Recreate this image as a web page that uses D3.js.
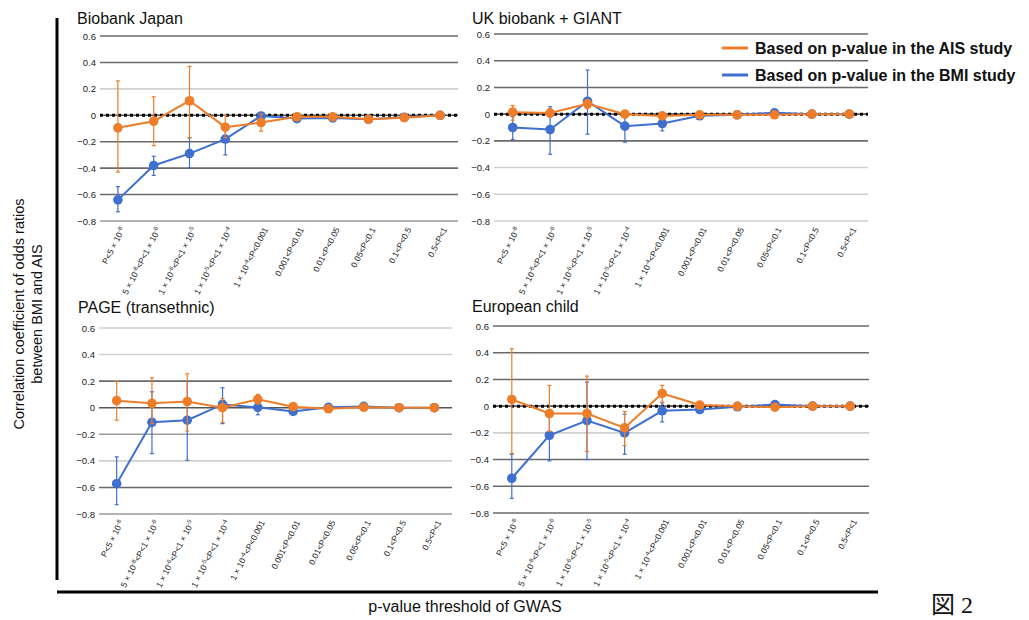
<!DOCTYPE html>
<html>
<head>
<meta charset="utf-8">
<script src="https://cdn.jsdelivr.net/npm/d3@7"></script>
<style>
  body { margin: 0; background: #fff; }
  svg { display: block; font-family: "Liberation Sans", Arial, sans-serif; }
</style>
</head>
<body>
<svg id="chart" width="1029" height="620"></svg>
<script>
// p-value threshold bins (^ marks a superscript exponent)
const categories = [
  "P<5 × 10^-8", "5 × 10^-8<P<1 × 10^-6", "1 × 10^-6<P<1 × 10^-5",
  "1 × 10^-5<P<1 × 10^-4", "1 × 10^-4<P<0.001", "0.001<P<0.01",
  "0.01<P<0.05", "0.05<P<0.1", "0.1<P<0.5", "0.5<P<1"
];
const yTicks = [0.6, 0.4, 0.2, 0, -0.2, -0.4, -0.6, -0.8];

// Biobank Japan
const bbjAis   = [-0.095, -0.045, 0.11, -0.09, -0.055, -0.012, -0.012, -0.03, -0.018, 0.0];
const bbjAisLo = [-0.43, -0.23, -0.17, -0.17, -0.12, -0.02, -0.02, -0.04, -0.025, -0.005];
const bbjAisHi = [0.26, 0.14, 0.37, 0.0, 0.01, 0.0, 0.0, -0.02, -0.01, 0.005];
const bbjBmi   = [-0.64, -0.38, -0.29, -0.18, -0.005, -0.025, -0.02, -0.03, -0.015, 0.0];
const bbjBmiLo = [-0.73, -0.455, -0.40, -0.30, -0.03, -0.03, -0.025, -0.035, -0.02, -0.005];
const bbjBmiHi = [-0.54, -0.31, -0.17, -0.11, 0.02, -0.02, -0.015, -0.025, -0.01, 0.005];

// UK biobank + GIANT
const ukbAis   = [0.015, 0.008, 0.077, 0.0, -0.013, -0.005, -0.005, -0.005, 0.0, 0.0];
const ukbAisLo = [-0.045, -0.02, 0.04, -0.01, -0.02, -0.01, -0.01, -0.01, -0.005, -0.005];
const ukbAisHi = [0.065, 0.04, 0.11, 0.01, -0.005, 0.0, 0.0, 0.0, 0.005, 0.005];
const ukbBmi   = [-0.10, -0.115, 0.097, -0.09, -0.07, -0.012, -0.005, 0.01, 0.0, 0.0];
const ukbBmiLo = [-0.19, -0.30, -0.15, -0.21, -0.125, -0.02, -0.01, 0.0, -0.005, -0.005];
const ukbBmiHi = [-0.02, 0.055, 0.33, -0.01, -0.04, -0.005, 0.0, 0.02, 0.005, 0.005];

// PAGE (transethnic)
const pageAis   = [0.053, 0.033, 0.046, 0.0, 0.063, 0.008, -0.008, 0.003, 0.0, 0.0];
const pageAisLo = [-0.094, -0.12, -0.175, -0.11, 0.028, 0.0, -0.015, -0.005, -0.005, -0.005];
const pageAisHi = [0.2, 0.225, 0.255, 0.07, 0.1, 0.015, 0.0, 0.01, 0.005, 0.005];
const pageBmi   = [-0.572, -0.11, -0.094, 0.025, 0.003, -0.028, 0.003, 0.01, 0.0, 0.0];
const pageBmiLo = [-0.73, -0.345, -0.395, -0.12, -0.053, -0.035, -0.003, 0.0, -0.005, -0.005];
const pageBmiHi = [-0.37, 0.12, 0.2, 0.15, 0.03, -0.02, 0.01, 0.02, 0.005, 0.005];

// European child
const euAis   = [0.05, -0.055, -0.055, -0.163, 0.095, 0.008, 0.0, -0.008, 0.0, 0.0];
const euAisLo = [-0.355, -0.19, -0.34, -0.295, 0.03, -0.005, -0.005, -0.015, -0.005, -0.005];
const euAisHi = [0.43, 0.155, 0.225, -0.04, 0.155, 0.02, 0.005, 0.0, 0.005, 0.005];
const euBmi   = [-0.54, -0.218, -0.108, -0.2, -0.035, -0.025, -0.005, 0.012, 0.0, 0.0];
const euBmiLo = [-0.69, -0.41, -0.40, -0.36, -0.118, -0.045, -0.01, 0.005, -0.005, -0.005];
const euBmiHi = [-0.36, -0.06, 0.18, -0.06, 0.025, -0.01, 0.0, 0.02, 0.005, 0.005];

const legendLabels = ["Based on p-value in the AIS study", "Based on p-value in the BMI study"];

const ORANGE = "#ee7d2a";
const BLUE = "#3f6fcf";
const shade = { d: "#6a6a6a", m: "#9a9a9a", l: "#cfcfcf", z: "#555" };

// grid shades per panel, top (0.6) to bottom (-0.8); z = plain zero line
const panels = [
  { title: "Biobank Japan", ais: bbjAis, aisLo: bbjAisLo, aisHi: bbjAisHi,
    bmi: bbjBmi, bmiLo: bbjBmiLo, bmiHi: bbjBmiHi,
    x0: 100, x1: 458, yTop: 36, yBot: 221, tx: 77, ty: 24, grid: "ddlzdddm", dotted: true },
  { title: "UK biobank + GIANT", ais: ukbAis, aisLo: ukbAisLo, aisHi: ukbAisHi,
    bmi: ukbBmi, bmiLo: ukbBmiLo, bmiHi: ukbBmiHi,
    x0: 494, x1: 868, yTop: 34, yBot: 221, tx: 472, ty: 24, grid: "dddzdlll", dotted: true },
  { title: "PAGE (transethnic)", ais: pageAis, aisLo: pageAisLo, aisHi: pageAisHi,
    bmi: pageBmi, bmiLo: pageBmiLo, bmiHi: pageBmiHi,
    x0: 99, x1: 452, yTop: 328, yBot: 514, tx: 78, ty: 313, grid: "lldzmldm", dotted: false },
  { title: "European child", ais: euAis, aisLo: euAisLo, aisHi: euAisHi,
    bmi: euBmi, bmiLo: euBmiLo, bmiHi: euBmiHi,
    x0: 493, x1: 869, yTop: 326, yBot: 513, tx: 472, ty: 312, grid: "dddzlddd", dotted: true }
];

const svg = d3.select("#chart");

function drawPanel(p) {
  const x = d3.scaleBand().domain(categories).range([p.x0, p.x1]);
  const y = d3.scaleLinear().domain([-0.8, 0.6]).range([p.yBot, p.yTop]);
  const g = svg.append("g");

  g.append("text")
    .attr("x", p.tx).attr("y", p.ty)
    .attr("font-size", 16).attr("fill", "#111")
    .text(p.title);

  // gridlines
  g.selectAll(".grid")
    .data(yTicks)
    .join("line")
    .attr("x1", p.x0).attr("x2", p.x1)
    .attr("y1", d => y(d)).attr("y2", d => y(d))
    .attr("stroke", (d, i) => shade[p.grid[i]])
    .attr("stroke-width", 1.6);

  if (p.dotted) {
    g.append("line")
      .attr("x1", p.x0).attr("x2", p.x1)
      .attr("y1", y(0)).attr("y2", y(0))
      .attr("stroke", "#000")
      .attr("stroke-width", 3)
      .attr("stroke-dasharray", "3,3");
  }

  // y axis labels
  const yAxis = g.append("g")
    .attr("transform", "translate(" + (p.x0 - 4) + ",0)")
    .call(d3.axisLeft(y).tickValues(yTicks).tickSize(0).tickPadding(0).tickFormat(d3.format(".1~f")));
  yAxis.select(".domain").remove();
  yAxis.selectAll("text")
    .attr("font-size", 9.5)
    .attr("fill", "#222")
    .attr("font-family", "'Liberation Sans', Arial, sans-serif");

  // x axis labels, rotated, with superscript exponents
  const xAxis = g.append("g")
    .attr("transform", "translate(0," + p.yBot + ")")
    .call(d3.axisBottom(x).tickSize(0).tickFormat(""));
  xAxis.select(".domain").remove();
  xAxis.selectAll(".tick text")
    .attr("x", null).attr("y", null).attr("dy", "0.3em")
    .attr("text-anchor", "end")
    .attr("transform", "translate(5,7) rotate(-63)")
    .attr("font-size", 8.5)
    .attr("fill", "#222")
    .attr("font-family", "'Liberation Sans', Arial, sans-serif")
    .each(function (d) {
      const t = d3.select(this);
      const parts = d.split(/(\^-\d)/);
      parts.forEach(s => {
        if (!s) return;
        if (s[0] === "^") {
          t.append("tspan").attr("font-size", 6).attr("dy", "-3").text(s.slice(1));
          t.append("tspan").attr("dy", "3").text("\u200b");
        } else {
          t.append("tspan").text(s);
        }
      });
    });

  const cx = (d, i) => x(categories[i]) + x.bandwidth() / 2;
  const line = d3.line().x(cx).y(d => y(d));

  const series = [
    { v: p.bmi, lo: p.bmiLo, hi: p.bmiHi, c: BLUE },
    { v: p.ais, lo: p.aisLo, hi: p.aisHi, c: ORANGE }
  ];

  series.forEach(s => {
    const eg = g.append("g");
    s.v.forEach((d, i) => {
      const xc = cx(d, i);
      if (s.hi[i] - s.lo[i] < 0.03) return;
      eg.append("line").attr("x1", xc).attr("x2", xc)
        .attr("y1", y(s.lo[i])).attr("y2", y(s.hi[i]))
        .attr("stroke", s.c).attr("stroke-width", 1.2);
      [s.lo[i], s.hi[i]].forEach(e => {
        eg.append("line").attr("x1", xc - 2).attr("x2", xc + 2)
          .attr("y1", y(e)).attr("y2", y(e))
          .attr("stroke", s.c).attr("stroke-width", 1.2);
      });
    });
    g.append("path")
      .datum(s.v)
      .attr("d", line)
      .attr("fill", "none")
      .attr("stroke", s.c)
      .attr("stroke-width", 2);
    g.selectAll(null)
      .data(s.v)
      .join("circle")
      .attr("cx", cx)
      .attr("cy", d => y(d))
      .attr("r", 4.8)
      .attr("fill", s.c);
  });
}

panels.forEach(drawPanel);

// legend
const legend = svg.append("g");
[ORANGE, BLUE].forEach((c, i) => {
  const ly = 48 + i * 27;
  legend.append("line")
    .attr("x1", 722).attr("x2", 748)
    .attr("y1", ly).attr("y2", ly)
    .attr("stroke", c).attr("stroke-width", 3);
  legend.append("text")
    .attr("x", 755).attr("y", ly + 6)
    .attr("font-size", 16).attr("font-weight", "bold")
    .attr("fill", "#111")
    .text(legendLabels[i]);
});

// outer frame lines
svg.append("line")
  .attr("x1", 57).attr("x2", 57).attr("y1", 18).attr("y2", 580)
  .attr("stroke", "#000").attr("stroke-width", 3);
svg.append("line")
  .attr("x1", 57).attr("x2", 878).attr("y1", 592).attr("y2", 592)
  .attr("stroke", "#000").attr("stroke-width", 3);

// axis titles
svg.append("text")
  .attr("transform", "translate(24,314) rotate(-90)")
  .attr("text-anchor", "middle")
  .attr("font-size", 14.5).attr("fill", "#111")
  .text("Correlation coefficient of odds ratios");
svg.append("text")
  .attr("transform", "translate(42,314) rotate(-90)")
  .attr("text-anchor", "middle")
  .attr("font-size", 14.5).attr("fill", "#111")
  .text("between BMI and AIS");
svg.append("text")
  .attr("x", 465).attr("y", 612)
  .attr("text-anchor", "middle")
  .attr("font-size", 16).attr("fill", "#111")
  .text("p-value threshold of GWAS");

svg.append("text")
  .attr("x", 931).attr("y", 613)
  .attr("font-size", 24).attr("fill", "#111")
  .attr("font-family", "'Liberation Serif', 'Noto Sans CJK JP', serif")
  .text("図 2");
</script>
</body>
</html>
